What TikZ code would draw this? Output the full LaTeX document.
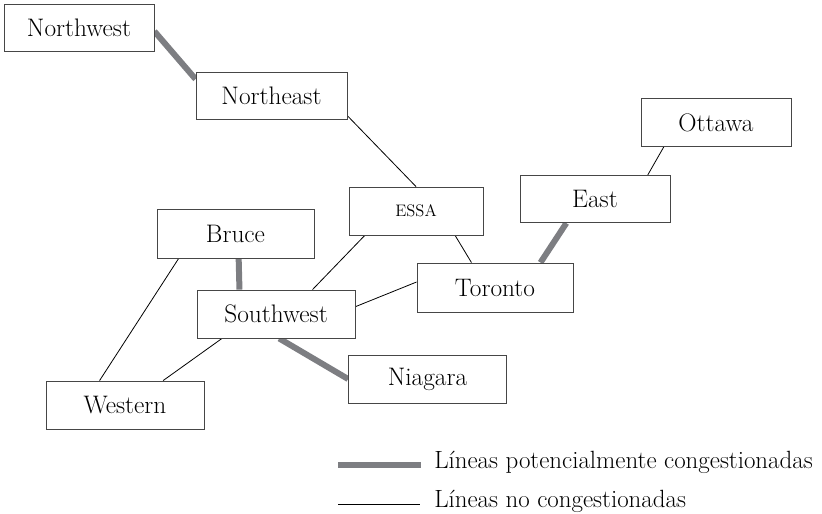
\documentclass[tikz,border=0pt]{standalone}
\usepackage{tikz}
\usepackage{amsmath}
\usetikzlibrary{calc,backgrounds}

\definecolor{boxline}{RGB}{70,70,70}
\definecolor{busygray}{RGB}{125,126,130}

\tikzset{
  region/.style={draw=boxline, line width=0.65pt, fill=white, inner sep=0pt,
    minimum width=118pt, minimum height=35.5pt, font=\fontsize{19}{22}\selectfont},
  busy/.style={draw=busygray, line width=4.5pt},
  free/.style={draw=black, line width=0.6pt},
  keytext/.style={anchor=base west, inner sep=0pt, font=\fontsize{18.7}{22}\selectfont},
}

\begin{document}
\begin{tikzpicture}[x=0.75pt,y=0.75pt,yscale=-1,xscale=1]
\useasboundingbox (0,0) rectangle (822,514);

%Shape: Rectangle
\node [region, minimum width=112.5pt] (nw) at (79,28) {Northwest};
\node [region, minimum width=113.25pt] (ne) at (271.5,96) {Northeast};
\node [region, minimum width=112.5pt] (ot) at (716,122.5) {Ottawa};
\node [region, minimum width=100.5pt, minimum height=36pt] (essa) at (416,211) {\fontsize{12.5}{14}\selectfont ESSA};
\node [region, minimum width=112.5pt] (ea) at (595,199) {East};
\node [region, minimum width=117pt, minimum height=36.75pt] (to) at (495,287.5) {Toronto};
\node [region, minimum width=117.75pt, minimum height=36.75pt] (br) at (235.5,233.5) {Bruce};
\node [region, minimum width=118.5pt, minimum height=36pt] (sw) at (276,314) {Southwest};
\node [region, minimum width=118.5pt, minimum height=36pt] (ni) at (427.5,379) {Niagara};
\node [region, minimum width=118.5pt, minimum height=36pt] (we) at (125,405) {Western};

\begin{pgfonlayer}{background}
%Straight Lines
\draw [busy] ($(nw.north east)!0.57!(nw.south east)$) -- ($(ne.north west)!0.15!(ne.south west)$);
\draw [free] ($(ne.north east)!0.91!(ne.south east)$) -- (essa.north);
\draw [free] ($(ot.south west)!0.155!(ot.south east)$) -- ($(ea.north west)!0.85!(ea.north east)$);
\draw [busy] ($(ea.south west)!0.31!(ea.south east)$) -- ($(to.north west)!0.79!(to.north east)$);
\draw [free] ($(essa.south west)!0.79!(essa.south east)$) -- ($(to.north west)!0.35!(to.north east)$);
\draw [free] ($(essa.south west)!0.12!(essa.south east)$) -- ($(sw.north west)!0.73!(sw.north east)$);
\draw [free] ($(to.north west)!0.39!(to.south west)$) -- ($(sw.north east)!0.35!(sw.south east)$);
\draw [busy] ($(br.south west)!0.52!(br.south east)$) -- ($(sw.north west)!0.27!(sw.north east)$);
\draw [free] ($(br.south west)!0.14!(br.south east)$) -- ($(we.north west)!0.34!(we.north east)$);
\draw [free] ($(sw.south west)!0.16!(sw.south east)$) -- ($(we.north west)!0.74!(we.north east)$);
\draw [busy] ($(sw.south west)!0.52!(sw.south east)$) -- (ni.west);
\end{pgfonlayer}

% Legend
\coordinate (busyA) at (338,464.5);
\coordinate (busyB) at (421,464.5);
\coordinate (freeA) at (338,504);
\coordinate (freeB) at (420,504);
\draw [busy] (busyA) -- (busyB);
\draw [free] (freeA) -- (freeB);

% Text Node
\node [keytext] (busykey) at (434,468) {L\'{\i}neas potencialmente congestionadas};
\node [keytext] (freekey) at (434,507) {L\'{\i}neas no congestionadas};

\end{tikzpicture}
\end{document}
